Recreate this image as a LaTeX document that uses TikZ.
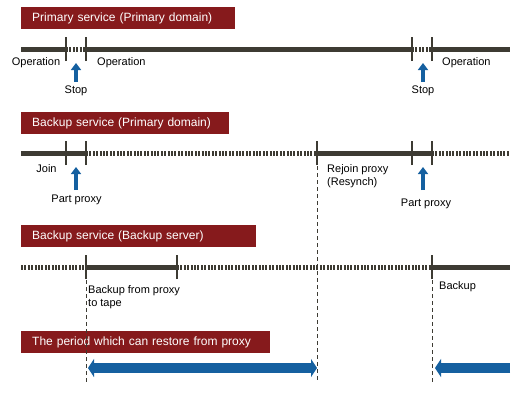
\documentclass[tikz,border=0pt]{standalone}
\usepackage{fontspec}
\setmainfont{Liberation Sans}
\usetikzlibrary{arrows.meta}
\definecolor{bannerred}{HTML}{861A1C}
\definecolor{tline}{HTML}{3D3B33}
\definecolor{tblue}{HTML}{1560A0}
\tikzset{
  bannerbox/.style={fill=bannerred, text=white, anchor=north west, inner xsep=11pt, inner ysep=0pt,
    minimum height=22pt, align=left, font=\fontsize{12}{14}\selectfont},
  lbl/.style={inner sep=0pt, font=\fontsize{11}{13}\selectfont, text=black},
  solidseg/.style={draw=tline, line width=5pt},
  dotseg/.style={draw=tline, line width=5pt, dash pattern=on 2pt off 1.4pt},
  tick/.style={draw=tline, line width=2.6pt},
  upar/.style={draw=tblue, line width=3.5pt, -{Triangle[width=10pt,length=7pt]}},
  bigar/.style={draw=tblue, line width=10pt, -{Triangle[width=18pt,length=6pt]}},
  vdash/.style={draw=tline, line width=0.8pt, dash pattern=on 4pt off 3pt},
}
\begin{document}
\begin{tikzpicture}[x=1pt,y=-1pt]
\useasboundingbox (0,0) rectangle (530,400);
% banners
\node[bannerbox, text width=192pt] (b1) at (21,7) {Primary service (Primary domain)};
\node[bannerbox, text width=186pt] (b2) at (21,112) {Backup service (Primary domain)};
\node[bannerbox, text width=213pt] (b3) at (21,225) {Backup service (Backup server)};
\node[bannerbox, text width=227pt] (b4) at (21,331) {The period which can restore from proxy};

% line 1 (y=49)
\coordinate (l1s) at (21,49); \coordinate (l1a) at (66,49); \coordinate (l1b) at (86,49);
\coordinate (l1c) at (412,49); \coordinate (l1d) at (432,49); \coordinate (l1e) at (510,49);
\path[solidseg] (l1s) -- (l1a);
\path[dotseg] (l1a) -- (l1b);
\path[solidseg] (l1b) -- (l1c);
\path[dotseg] (l1c) -- (l1d);
\path[solidseg] (l1d) -- (l1e);
\foreach \c in {l1a,l1b,l1c,l1d}{ \path[tick] ([yshift=-12pt]\c) -- ([yshift=12pt]\c); }
\node[lbl] (op1) at (36,63) {Operation};
\node[lbl, anchor=west] (op2) at (97,63) {Operation};
\node[lbl, anchor=west] (op3) at (442,63) {Operation};
\coordinate (s1b) at (76,82); \coordinate (s1t) at (76,63);
\coordinate (s2b) at (423,82); \coordinate (s2t) at (423,63);
\draw[upar] (s1b) -- (s1t);
\draw[upar] (s2b) -- (s2t);
\node[lbl] (stop1) at (76,91) {Stop};
\node[lbl] (stop2) at (423,91) {Stop};

% line 2 (y=153)
\coordinate (l2s) at (21,153); \coordinate (l2a) at (66,153); \coordinate (l2b) at (86,153);
\coordinate (l2r) at (317,153); \coordinate (l2c) at (412,153); \coordinate (l2d) at (432,153);
\coordinate (l2e) at (510,153);
\path[solidseg] (l2s) -- (l2b);
\path[dotseg] (l2b) -- (l2r);
\path[solidseg] (l2r) -- (l2d);
\path[dotseg] (l2d) -- (l2e);
\foreach \c in {l2a,l2b,l2r,l2c,l2d}{ \path[tick] ([yshift=-12pt]\c) -- ([yshift=12pt]\c); }
\node[lbl] (join) at (46.5,169) {Join};
\coordinate (p1b) at (76,190); \coordinate (p1t) at (76,167);
\coordinate (p2b) at (423,190); \coordinate (p2t) at (423,167);
\draw[upar] (p1b) -- (p1t);
\draw[upar] (p2b) -- (p2t);
\node[lbl] (part1) at (76.5,200) {Part proxy};
\node[lbl] (part2) at (426,204) {Part proxy};
\node[lbl, anchor=west, align=left] (rejoin) at (327,176.5) {Rejoin proxy\\(Resynch)};

% line 3 (y=267)
\coordinate (l3s) at (21,267); \coordinate (l3a) at (86,267); \coordinate (l3b) at (177,267);
\coordinate (l3c) at (432,267); \coordinate (l3e) at (510,267);
\path[dotseg] (l3s) -- (l3a);
\path[solidseg] (l3a) -- (l3b);
\path[dotseg] (l3b) -- (l3c);
\path[solidseg] (l3c) -- (l3e);
\foreach \c in {l3a,l3b,l3c}{ \path[tick] ([yshift=-12pt]\c) -- ([yshift=12pt]\c); }
\node[lbl, anchor=west, align=left] (bft) at (88,297) {Backup from proxy\\to tape};
\node[lbl, anchor=west] (bk) at (439,287) {Backup};

% vertical dashed
\coordinate (v1t) at (86,280); \coordinate (v1b) at (86,382);
\coordinate (v2t) at (317,166); \coordinate (v2b) at (317,382);
\coordinate (v3t) at (432,280); \coordinate (v3b) at (432,382);
\path[vdash] (v1t) -- (v1b);
\path[vdash] (v2t) -- (v2b);
\path[vdash] (v3t) -- (v3b);

% period arrows (y=368)
\coordinate (r1a) at (88,368); \coordinate (r1b) at (317,368);
\coordinate (r2a) at (510,368); \coordinate (r2b) at (435,368);
\draw[bigar, {Triangle[width=18pt,length=6pt]}-{Triangle[width=18pt,length=6pt]}] (r1a) -- (r1b);
\draw[bigar] (r2a) -- (r2b);
\end{tikzpicture}
\end{document}
